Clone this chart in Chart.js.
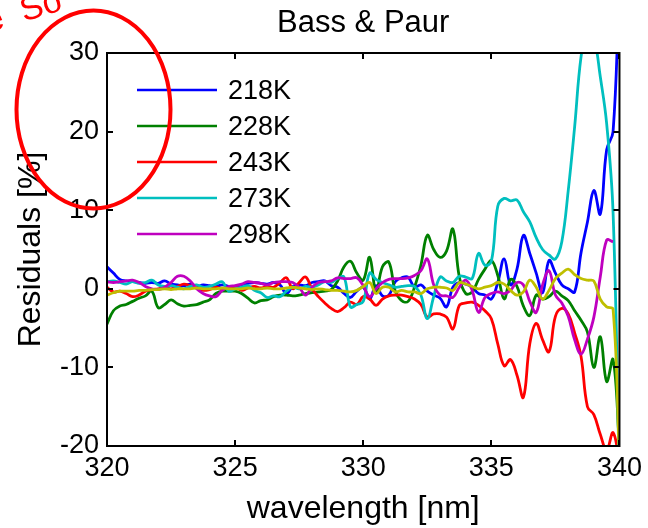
<!DOCTYPE html>
<html>
<head>
<meta charset="utf-8">
<title>Bass & Paur residuals</title>
<script src="https://cdn.jsdelivr.net/npm/chart.js@4.4.1/dist/chart.umd.min.js"></script>
<style>
  body { margin: 0; background: #ffffff; }
</style>
</head>
<body>
<canvas id="myChart" width="648" height="528"></canvas>
<script>
/* Residuals of the Bass & Paur cross sections, one curve per temperature */

// wavelength grid [nm]
const wavelength = [
    320, 320.25, 320.5, 320.75, 321, 321.25, 321.5, 321.75,
    322, 322.25, 322.5, 322.75, 323, 323.25, 323.5, 323.75,
    324, 324.25, 324.5, 324.75, 325, 325.25, 325.5, 325.75,
    326, 326.25, 326.5, 326.75, 327, 327.25, 327.5, 327.75,
    328, 328.25, 328.5, 328.75, 329, 329.25, 329.5, 329.75,
    330, 330.25, 330.5, 330.75, 331, 331.25, 331.5, 331.75,
    332, 332.25, 332.5, 332.75, 333, 333.25, 333.5, 333.75,
    334, 334.25, 334.5, 334.75, 335, 335.25, 335.5, 335.75,
    336, 336.25, 336.5, 336.75, 337, 337.25, 337.5, 337.75,
    338, 338.25, 338.5, 338.75, 339, 339.25, 339.5, 339.75,
    340
]

// residuals [%]
const res218 = [
    2.8, 2.0, 1.2, 1.0,   0.9, 0.8, 0.7, 0.8,   0.7, 1.0, 0.6, 0.5,   0.4, 0.6, 0.3, 0.5,
    0.4, 0.3, 0.5, 0.3,   0.2, 0.5, 0.7, 0.8,   0.7, 0.6, 0.8, 0.5,   -0.6, 0.3, 0.5, 0.4,
    0.8, 0.9, 1.0, 0.4,   0.2, -0.6, -1.1, -0.3,   0.2, -1.3, 0.4, -0.9,   -0.8, 0.9, 1.4, 1.5,
    0.2, 0.5, -0.3, -0.8,   -1.2, -2.3, 0.2, 0.8,   0.6, 0.2, -0.6, -0.8,   -1.3, 0.8, 3.8, 0.5,
    2.5, 6.8, 4.5, 2.0,   -0.5, 3.6, 2.0, 0.5,   0.0, -0.4, 4.6, 8.5,   12.5, 9.5, 17.7, 20,
    40
]
const res228 = [
    -4.5, -2.8, -2.2, -2.0,   -1.6, -1.2, -0.9, -0.3,   -2.4, -2.0, -1.4, -1.9,   -2.2, -2.1, -2.0, -1.7,
    -1.4, -0.6, -0.3, -0.3,   -0.3, -0.6, -1.2, -1.8,   -1.5, -1.4, -1.0, -0.8,   -0.8, -0.9, -0.8, -0.6,
    -0.5, -0.4, -0.3, -0.1,   1.0, 2.8, 3.5, 2.0,   1.1, 4.0, -0.4, 2.8,   3.4, -0.3, -1.5, -1.6,
    0.2, 3.0, 6.8, 5.0,   4.0, 4.8, 7.6, 1.5,   -0.6, -0.4, 1.2, 2.5,   3.6, 1.7, -1.3, 1.2,
    0.3, -2.2, -3.4, -0.8,   -1.3, -1.0, -0.3, -0.9,   -1.5, -2.8, -4.0, -5.5,   -10.0, -6.1, -11.8, -9.0,
    -20
]
const res243 = [
    0.2, -0.4, -0.3, -0.6,   -1.0, -0.8, -0.3, -0.1,   0.0, 0.2, 0.0, 0.3,   0.6, 0.4, 0.1, -0.2,
    -0.1, 0.2, 0.0, 0.2,   0.3, -0.2, 0.1, 0.3,   0.1, 0.3, 0.2, 0.8,   1.4, 0.0, 0.8, 1.5,
    0.0, -1.0, -1.8, -2.5,   -2.9, -2.4, -1.7, -2.0,   -1.0, -1.3, -2.1, -1.3,   -0.9, -0.8, -0.8, -1.0,
    -1.3, -2.0, -3.6, -3.2,   -3.2, -3.6, -5.1, -2.1,   -1.8, -1.7, -2.1, -2.8,   -3.8, -7.0, -9.8, -9.0,
    -11.0, -13.8, -7.0, -4.4,   -6.5, -8.0, -3.5, -2.5,   -3.2, -5.6, -8.6, -15.0,   -16.0, -18.5, -20.5, -18.3,
    -22
]
const res273 = [
    0.9, 1.0, 0.8, 0.6,   0.9, 0.7, 0.8, 1.1,   0.5, 0.3, 0.4, 0.2,   0.0, 0.3, 0.5, 0.2,
    0.3, 0.6, 0.9, -0.3,   0.0, 0.2, 0.4, -0.2,   -0.5, -1.1, -0.9, -1.0,   -0.3, 0.2, 0.0, 0.3,
    0.2, 0.5, 0.9, 0.8,   1.3, 1.5, -2.3, -2.0,   -1.6, 2.0, 1.2, 0.8,   0.5, 0.2, 0.3, 0.4,
    0.3, -0.8, -3.8, -1.0,   1.5, 1.0, 0.8, 1.6,   1.5, 1.3, 4.5, 3.0,   3.5, 10.5, 11.5, 11.2,
    11.3, 9.8, 8.5, 6.5,   5.0, 4.3, 3.8, 6.0,   12.5, 20.6, 29.5, 33,   32, 27, 21, 9.7,
    -25
]
const res298 = [
    0.9, 0.8, 0.9, 1.0,   1.1, 0.8, 0.3, 0.0,   -0.1, 0.2, 0.8, 1.6,   1.6, 1.0, 0.0, -0.6,
    -0.9, -1.0, -0.2, 0.3,   0.4, 0.6, 0.9, 0.8,   0.7, 0.5, 0.8, 0.9,   0.9, 0.8, 0.2, -0.8,
    0.2, 0.8, 0.9, 1.0,   1.4, 1.3, 1.3, 1.4,   0.4, -1.0, 0.0, 0.8,   1.2, 1.3, 1.3, 1.4,
    1.7, 2.3, 3.8, 0.5,   -0.8, -0.9, -1.1, 0.2,   1.1, -0.2, -3.0, -1.1,   -0.6, -0.4, -0.6, -0.2,
    0.8, 0.5, -1.6, -3.0,   0.5, 2.3, -0.8, -1.8,   -3.5, -6.5, -8.3, -6.4,   -3.6, 1.5, 6.2, 6.0,
    null
]
// reference curve, not listed in the legend
const resRef = [
    -0.8, -0.5, -0.3, -0.3,   -0.3, -0.2, -0.2, -0.1,   -0.1, 0.0, -0.1, 0.0,   0.0, 0.0, 0.1, 0.0,
    0.0, 0.0, 0.1, 0.0,   0.0, 0.0, 0.1, 0.0,   0.0, 0.1, 0.0, 0.0,   0.1, 0.2, 0.1, 0.0,
    -0.1, 0.0, -0.1, -0.2,   -0.2, -0.3, -0.4, -0.2,   0.3, 0.8, -0.6, 0.2,   0.2, -0.4, -0.2, -0.4,
    -0.4, -0.6, 0.0, 0.2,   0.2, 0.1, -0.2, 0.8,   0.6, 0.3, 0.0, 0.2,   0.4, 0.8, 0.6, -0.2,
    -0.8, -0.4, 1.1, 0.2,   -1.3, -0.2, 1.3, 2.0,   2.5, 1.8, 1.3, 1.1,   1.0, -1.3, -2.3, -2.6,
    -22
]

const seriesLabels = ['218K', '228K', '243K', '273K', '298K', '']
const seriesValues = [res218, res228, res243, res273, res298, resRef]
const seriesColors = ['#0000ff', '#008000', '#ff0000', '#00bfbf', '#bf00bf', '#bfbf00']

const xTicks = [320, 325, 330, 335, 340]
const yTicks = [-20, -10, 0, 10, 20, 30]

const fontFamily = "'Liberation Sans', Arial, sans-serif"
Chart.defaults.font.family = fontFamily
Chart.defaults.color = '#000000'

// Box, inward ticks, title, legend
const framePlugin = {
    id: 'frame',
    afterDatasetsDraw(chart) {
        const ctx = chart.ctx
        const a = chart.chartArea
        const x = chart.scales.x
        const y = chart.scales.y
        ctx.save()
        ctx.strokeStyle = '#000000'
        ctx.lineWidth = 2
        ctx.strokeRect(a.left, a.top, a.right - a.left, a.bottom - a.top)

        ctx.beginPath()
        x.ticks.forEach(t => {
            let px = Math.round(x.getPixelForValue(t.value))
            ctx.moveTo(px, a.bottom); ctx.lineTo(px, a.bottom - 6)
            ctx.moveTo(px, a.top); ctx.lineTo(px, a.top + 6)
        })
        y.ticks.forEach(t => {
            let py = Math.round(y.getPixelForValue(t.value))
            ctx.moveTo(a.left, py); ctx.lineTo(a.left + 6, py)
            ctx.moveTo(a.right, py); ctx.lineTo(a.right - 6, py)
        })
        ctx.stroke()

        // title
        ctx.fillStyle = '#000000'
        ctx.font = '31px ' + fontFamily
        ctx.textAlign = 'center'
        ctx.textBaseline = 'middle'
        ctx.fillText('Bass & Paur', (a.left + a.right) / 2, 23)

        // legend
        ctx.font = '27px ' + fontFamily
        ctx.textAlign = 'left'
        chart.data.datasets.forEach((ds, i) => {
            if (!ds.label) return
            let ly = a.top + 37 + i * 36
            ctx.strokeStyle = ds.borderColor
            ctx.lineWidth = 2.5
            ctx.beginPath()
            ctx.moveTo(a.left + 30, ly)
            ctx.lineTo(a.left + 110, ly)
            ctx.stroke()
            ctx.fillText(ds.label, a.left + 121, ly + 2)
        })
        ctx.restore()
    },
    afterDraw(chart) {
        // red hand-drawn note over the upper left corner
        const ctx = chart.ctx
        ctx.save()
        ctx.strokeStyle = '#ff0000'
        ctx.lineWidth = 4
        ctx.beginPath()
        ctx.ellipse(93.5, 109.5, 77, 99, 0, 0, Math.PI * 2)
        ctx.stroke()

        ctx.fillStyle = '#ff0000'
        ctx.font = '34px ' + fontFamily
        ctx.translate(-12, 33)
        ctx.rotate(-0.3)
        ctx.textBaseline = 'alphabetic'
        ctx.fillText('e  So', 0, 0)
        ctx.restore()
    }
}

const datasets = seriesValues.map((vals, i) => ({
    label: seriesLabels[i],
    data: wavelength.map((w, j) => ({ x: w, y: vals[j] })),
    borderColor: seriesColors[i],
    backgroundColor: seriesColors[i],
    borderWidth: 2.8,
    pointRadius: 0,
    tension: 0.4,
    order: seriesValues.length - 1 - i
}))

const ctx = document.getElementById('myChart').getContext('2d')
const myChart = new Chart(ctx, {
    type: 'line',
    data: { datasets: datasets },
    options: {
        responsive: false,
        animation: false,
        layout: { padding: { top: 53, right: 28, left: 0, bottom: 0 } },
        plugins: {
            legend: { display: false },
            tooltip: { enabled: false }
        },
        scales: {
            x: {
                type: 'linear',
                min: 320,
                max: 340,
                afterBuildTicks: s => { s.ticks = xTicks.map(v => ({ value: v })) },
                afterFit: s => { s.height = 82 },
                grid: { display: false, drawTicks: false },
                border: { display: false },
                ticks: { font: { size: 27 }, padding: 6, maxRotation: 0 },
                title: { display: true, text: 'wavelength [nm]', font: { size: 32 }, padding: { top: 0, bottom: 0 } }
            },
            y: {
                min: -20,
                max: 30,
                afterBuildTicks: s => { s.ticks = yTicks.map(v => ({ value: v })) },
                afterFit: s => { s.width = 107 },
                grid: { display: false, drawTicks: false },
                border: { display: false },
                ticks: { font: { size: 27 }, padding: 8 },
                title: { display: true, text: 'Residuals [%]', font: { size: 32 }, padding: { top: 12, bottom: 0 } }
            }
        }
    },
    plugins: [framePlugin]
})
</script>
</body>
</html>
